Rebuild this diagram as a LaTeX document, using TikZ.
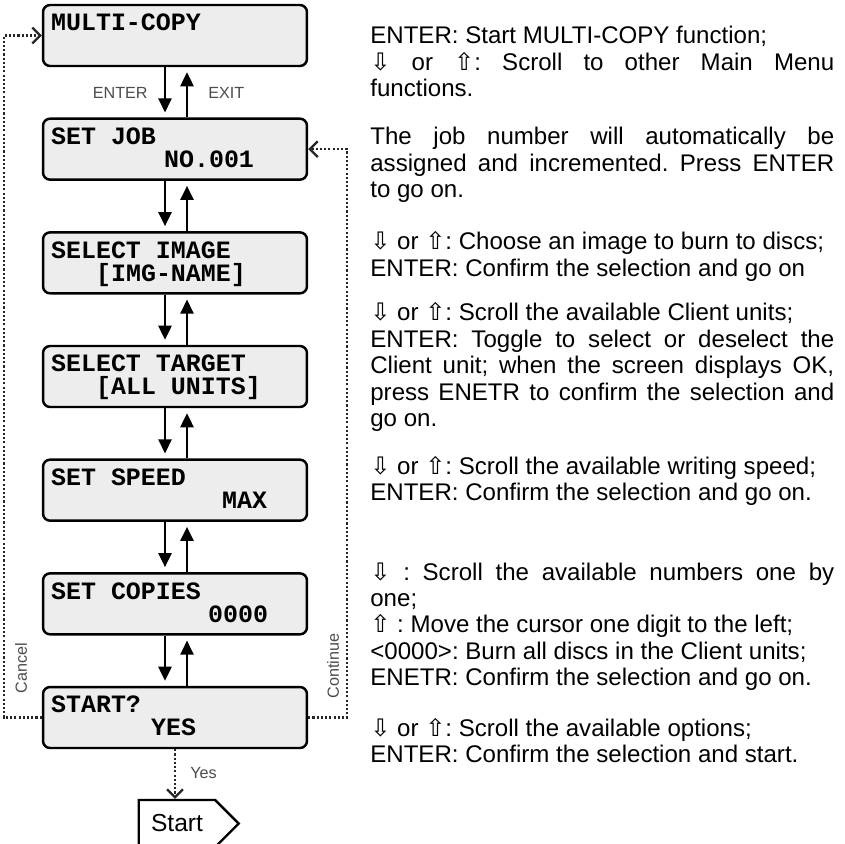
\documentclass[tikz,border=0pt]{standalone}
\usepackage{fontspec}
\setmainfont{Liberation Sans}
\newfontfamily\lcdfont{Liberation Mono}
\newfontfamily\symfont{DejaVu Sans}
\usetikzlibrary{arrows.meta,shapes.symbols}
\newcommand{\arrdn}{{\symfont ⇩}}
\newcommand{\arrup}{{\symfont ⇧}}
\frenchspacing
\tolerance=9999
\hbadness=10000
\tikzset{
  lcd/.style={draw, line width=1.4pt, rounded corners=4pt, fill=black!7,
    minimum width=5.28cm, minimum height=1.22cm, inner sep=0pt},
  lcdtext/.style={font=\lcdfont\bfseries\fontsize{14.2}{16}\selectfont,
    inner sep=0pt, anchor=base west},
  flow/.style={line width=1.1pt, -{Triangle[length=8pt,width=7.5pt]}, shorten >=0.1cm},
  loopline/.style={line width=1.3pt, black!85, dash pattern=on 1.2pt off 1.2pt,
    -{Straight Barb[length=4.5pt,width=9pt]}},
  lbl/.style={font=\fontsize{9.2}{11}\selectfont, text=black!70, inner sep=0pt},
  note/.style={font=\fontsize{13.7}{15}\selectfont,
    text width=9.28cm, align=justify, inner sep=0pt, anchor=base west},
  startbox/.style={signal, signal to=east, signal pointer angle=90, draw,
    line width=1.4pt, fill=white, font=\fontsize{14}{16}\selectfont,
    minimum width=2.0cm, minimum height=0.94cm, inner sep=0pt}
}
\begin{document}
\begin{tikzpicture}[x=0.02cm,y=-0.02cm]
  % Canvas
  \fill[white] (0,0) rectangle (845,844);
  \useasboundingbox (0,0) rectangle (845,844);
  %
  % LCD screens
  \foreach \i/\ta/\tb/\xb in {1/MULTI-COPY//52, 2/SET JOB/NO.001/165,
      3/SELECT IMAGE/[IMG-NAME]/97, 4/SELECT TARGET/[ALL UNITS]/97,
      5/SET SPEED/MAX/223, 6/SET COPIES/0000/209, 7/START?/YES/152}{
    \node[lcd] (b\i) at (175,{35.5+113.67*(\i-1)}) {};
    \node[lcdtext] (l\i) at ([shift={(9,27)}]b\i.north west) {\ta};
    \node[lcdtext] (v\i) at ([shift={(\xb-43,50)}]b\i.north west) {\tb};
  }
  %
  % ENTER / EXIT arrows
  \foreach \i/\j in {1/2,2/3,3/4,4/5,5/6,6/7}{
    \draw[flow] ([xshift=-0.2cm]b\i.south) -- ([xshift=-0.2cm]b\j.north);
    \draw[flow] ([xshift=0.24cm]b\j.north) -- ([xshift=0.24cm]b\i.south);
  }
  \node[lbl, anchor=east] (enter) at (148,93) {ENTER};
  \node[lbl, anchor=west] (exit) at (208,93) {EXIT};
  %
  % Cancel and Continue
  \draw[loopline] (b7.west) -- ++(-38,0) |- (b1.west);
  \draw[loopline] (b7.east) -- ++(39,0) |- (b2.east);
  \node[lbl, rotate=90] (cancel) at (21,668) {Cancel};
  \node[lbl, rotate=90] (cont) at (333,666) {Continue};
  %
  % Start
  \node[startbox] (st) at (177,823.5) {Start};
  \draw[loopline] (b7.south) -- (b7.south |- st.north);
  \node[lbl, anchor=west] (yes) at (190,773) {Yes};
  %
  % Notes
  \node[note] (p1) at (370,44) {ENTER: Start MULTI-COPY function;\\
    \arrdn{} or \arrup{}: Scroll to other Main Menu\linebreak functions.};
  \node[note] (p2) at (370,145) {The job number will automatically be\linebreak
    assigned and incremented. Press ENTER\linebreak to go on.};
  \node[note] (p3) at (370,250) {\arrdn{} or \arrup{}: Choose an image to burn to discs;\\
    ENTER: Confirm the selection and go on};
  \node[note] (p4) at (370,321) {\arrdn{} or \arrup{}: Scroll the available Client units;\\
    ENTER: Toggle to select or deselect the\linebreak
    Client unit; when the screen displays OK,\linebreak
    press ENETR to confirm the selection and\linebreak go on.};
  \node[note] (p5) at (370,474) {\arrdn{} or \arrup{}: Scroll the available writing speed;\\
    ENTER: Confirm the selection and go on.};
  \node[note] (p6) at (370,580) {\arrdn{} : Scroll the available numbers one by\linebreak one;\\
    \arrup{} : Move the cursor one digit to the left;\\
    <0000>: Burn all discs in the Client units;\\
    ENETR: Confirm the selection and go on.};
  \node[note] (p7) at (370,736) {\arrdn{} or \arrup{}: Scroll the available options;\\
    ENTER: Confirm the selection and start.};
\end{tikzpicture}
\end{document}
